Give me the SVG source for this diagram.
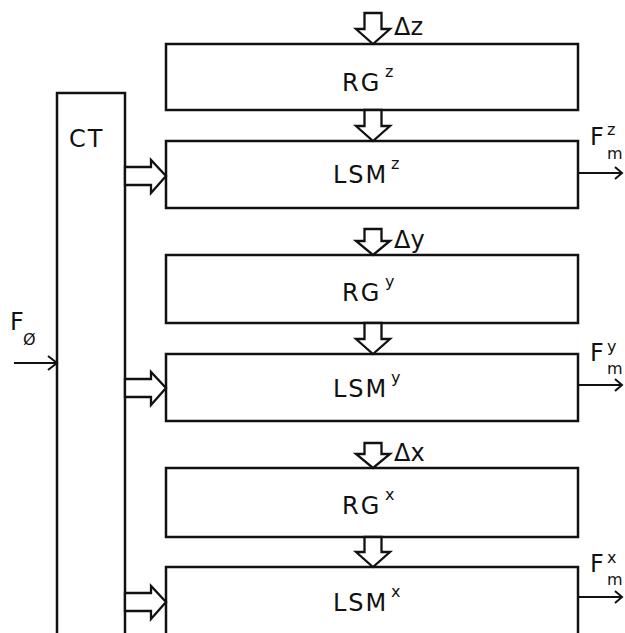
<svg xmlns="http://www.w3.org/2000/svg" width="625" height="633" viewBox="0 0 625 633">
<style>
.box{fill:#fff;stroke:#111;stroke-width:2.5}
.ha{fill:#fff;stroke:#111;stroke-width:2.3;stroke-linejoin:miter}
.ln{fill:none;stroke:#111;stroke-width:2}
.t{font-family:"DejaVu Sans",sans-serif;font-size:24px;fill:#111;letter-spacing:2px}
.s{font-family:"DejaVu Sans",sans-serif;font-size:16px;fill:#111}
.d{font-family:"DejaVu Sans",sans-serif;font-size:24px;fill:#111}
</style>
<rect width="625" height="633" fill="#fff"/>
<g id="CT"><rect class="box" x="57" y="93" width="68" height="560"/><text class="t" x="69" y="147" font-size="26">CT</text></g>
<g id="RGz"><rect class="box" x="166" y="44" width="412" height="66"/><text class="t" x="342" y="91">RG</text><text class="s" x="385" y="77">z</text></g>
<g id="LSMz"><rect class="box" x="166" y="141" width="412" height="67"/><text class="t" x="333" y="183">LSM</text><text class="s" x="391" y="169">z</text></g>
<g id="RGy"><rect class="box" x="166" y="255" width="412" height="68"/><text class="t" x="342" y="301">RG</text><text class="s" x="385" y="287">y</text></g>
<g id="LSMy"><rect class="box" x="166" y="354" width="412" height="67"/><text class="t" x="333" y="397">LSM</text><text class="s" x="391" y="383">y</text></g>
<g id="RGx"><rect class="box" x="166" y="468" width="412" height="69"/><text class="t" x="342" y="514">RG</text><text class="s" x="385" y="500">x</text></g>
<g id="LSMx"><rect class="box" x="166" y="567" width="412" height="90"/><text class="t" x="333" y="611">LSM</text><text class="s" x="391" y="597">x</text></g>
<g id="connectors">
<path class="ha" d="M364.5,13 H381.5 V29 H390 L373,44 L356,29 H364.5 Z"/>
<path class="ha" d="M364.5,110 H381.5 V126 H390 L373,141 L356,126 H364.5 Z"/>
<path class="ha" d="M364.5,229 H381.5 V241 H390 L373,255 L356,241 H364.5 Z"/>
<path class="ha" d="M364.5,323 H381.5 V339 H390 L373,354 L356,339 H364.5 Z"/>
<path class="ha" d="M364.5,443 H381.5 V454 H390 L373,468 L356,454 H364.5 Z"/>
<path class="ha" d="M364.5,537 H381.5 V552 H390 L373,567 L356,552 H364.5 Z"/>
<path class="ha" d="M125,167 V185 H151 V193 L166,176 L151,160 V167 Z"/>
<path class="ha" d="M125,379 V397 H151 V405 L166,388 L151,372 V379 Z"/>
<path class="ha" d="M125,593 V611 H151 V619 L166,602 L151,586 V593 Z"/>
<path class="ln" d="M14,363 H57 M48,356 L57,363 L48,370"/>
<path class="ln" d="M578,173 H622 M615,167 L622,173 L615,179"/>
<path class="ln" d="M578,385 H622 M615,379 L622,385 L615,391"/>
<path class="ln" d="M578,597 H622 M615,591 L622,597 L615,603"/>
</g>
<text class="d" x="394" y="35">Δz</text>
<text class="d" x="394" y="248">Δy</text>
<text class="d" x="394" y="461">Δx</text>
<text class="d" x="590" y="145">F</text><text class="s" x="607" y="135">z</text><text class="s" x="607" y="159">m</text>
<text class="d" x="590" y="361">F</text><text class="s" x="607" y="352">y</text><text class="s" x="607" y="374">m</text>
<text class="d" x="590" y="572">F</text><text class="s" x="607" y="563">x</text><text class="s" x="607" y="585">m</text>
<text class="d" x="10" y="330">F</text><text class="s" x="23" y="345" font-size="18">Ø</text>
</svg>
